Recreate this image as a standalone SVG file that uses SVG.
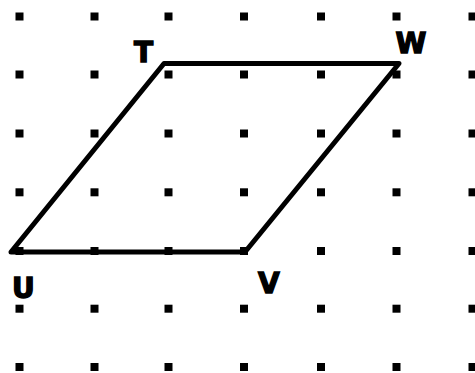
<svg xmlns="http://www.w3.org/2000/svg" width="475" height="373" viewBox="0 0 475 373">
<style>
.d{fill:#000}
.lbl{font-family:"DejaVu Sans",Verdana,sans-serif;font-weight:bold;font-size:28px;fill:#000;stroke:#000;stroke-width:1.4;stroke-linejoin:miter}
.shape{fill:none;stroke:#000;stroke-width:5;stroke-linejoin:round}
</style>
<defs>
<rect id="dot" x="-4" y="-4" width="8" height="8" class="d"/>
</defs>
<g id="grid">
<g id="r1"><use href="#dot" x="19.5" y="16.5"/><use href="#dot" x="94.5" y="16.5"/><use href="#dot" x="168.5" y="16.5"/><use href="#dot" x="244" y="16.5"/><use href="#dot" x="321" y="16.5"/><use href="#dot" x="396.5" y="16.5"/><use href="#dot" x="472.5" y="16.5"/></g>
<g id="r2"><use href="#dot" x="19.5" y="74.5"/><use href="#dot" x="94.5" y="74.5"/><use href="#dot" x="168.5" y="74.5"/><use href="#dot" x="244" y="74.5"/><use href="#dot" x="321" y="74.5"/><use href="#dot" x="396.5" y="74.5"/><use href="#dot" x="472.5" y="74.5"/></g>
<g id="r3"><use href="#dot" x="19.5" y="133.5"/><use href="#dot" x="94.5" y="133.5"/><use href="#dot" x="168.5" y="133.5"/><use href="#dot" x="244" y="133.5"/><use href="#dot" x="321" y="133.5"/><use href="#dot" x="396.5" y="133.5"/><use href="#dot" x="472.5" y="133.5"/></g>
<g id="r4"><use href="#dot" x="19.5" y="192.3"/><use href="#dot" x="94.5" y="192.3"/><use href="#dot" x="168.5" y="192.3"/><use href="#dot" x="244" y="192.3"/><use href="#dot" x="321" y="192.3"/><use href="#dot" x="396.5" y="192.3"/><use href="#dot" x="472.5" y="192.3"/></g>
<g id="r5"><use href="#dot" x="19.5" y="251"/><use href="#dot" x="94.5" y="251"/><use href="#dot" x="168.5" y="251"/><use href="#dot" x="244" y="251"/><use href="#dot" x="321" y="251"/><use href="#dot" x="396.5" y="251"/><use href="#dot" x="472.5" y="251"/></g>
<g id="r6"><use href="#dot" x="19.5" y="308.7"/><use href="#dot" x="94.5" y="308.7"/><use href="#dot" x="168.5" y="308.7"/><use href="#dot" x="244" y="308.7"/><use href="#dot" x="321" y="308.7"/><use href="#dot" x="396.5" y="308.7"/><use href="#dot" x="472.5" y="308.7"/></g>
<g id="r7"><use href="#dot" x="19.5" y="367"/><use href="#dot" x="94.5" y="367"/><use href="#dot" x="168.5" y="367"/><use href="#dot" x="244" y="367"/><use href="#dot" x="321" y="367"/><use href="#dot" x="396.5" y="367"/><use href="#dot" x="472.5" y="367"/></g>
</g>
<g id="parallelogram">
<polygon class="shape" points="164,63.5 399,63.5 245,252 11,252"/>
</g>
<g id="labels">
<text class="lbl" x="134" y="61.5">T</text>
<text class="lbl" x="395.5" y="53">W</text>
<text class="lbl" x="12" y="297.5">U</text>
<text class="lbl" x="258" y="292.5">V</text>
</g>
</svg>
